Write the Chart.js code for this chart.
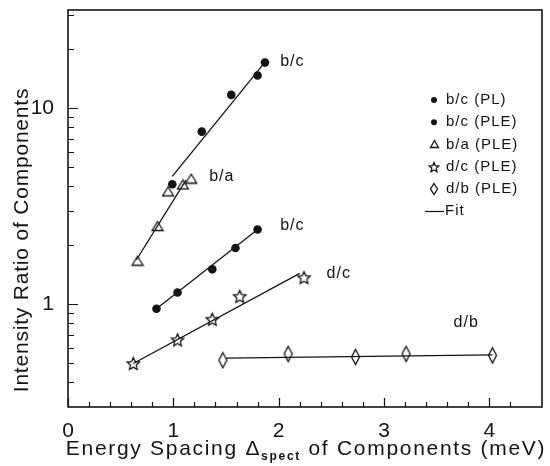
<!DOCTYPE html>
<html>
<head>
<meta charset="utf-8">
<script src="https://cdn.jsdelivr.net/npm/chart.js@4.4.1/dist/chart.umd.min.js"></script>
<style>
  html, body { margin: 0; padding: 0; background: #fff; }
  #wrap { width: 550px; height: 466px; }
</style>
</head>
<body>
<div id="wrap"><canvas id="c" width="550" height="466"></canvas></div>
<script>
// Measured intensity ratios vs. energy spacing (meV)
const bcPL_x  = [0.99, 1.27, 1.55, 1.80, 1.87];
const bcPL_y  = [4.1, 7.6, 11.7, 14.7, 17.1];
const bcPLE_x = [0.84, 1.04, 1.37, 1.59, 1.80];
const bcPLE_y = [0.95, 1.15, 1.51, 1.94, 2.41];
const baPLE_x = [0.66, 0.85, 0.95, 1.09, 1.17];
const baPLE_y = [1.67, 2.51, 3.77, 4.09, 4.38];
const dcPLE_x = [0.62, 1.04, 1.37, 1.63, 2.24];
const dcPLE_y = [0.50, 0.66, 0.84, 1.10, 1.37];
const dbPLE_x = [1.47, 2.09, 2.73, 3.21, 4.03];
const dbPLE_y = [0.52, 0.56, 0.54, 0.56, 0.55];

// Fitted lines (end points)
const fitBcPL_x  = [0.99, 1.89];
const fitBcPL_y  = [4.5, 17.7];
const fitBa_x    = [0.65, 1.12];
const fitBa_y    = [1.69, 4.3];
const fitBcPLE_x = [0.84, 1.80];
const fitBcPLE_y = [0.95, 2.41];
const fitDc_x    = [0.62, 2.20];
const fitDc_y    = [0.50, 1.44];
const fitDb_x    = [1.50, 4.03];
const fitDb_y    = [0.532, 0.553];

// Curve labels
const noteText = ['b/c', 'b/a', 'b/c', 'd/c', 'd/b'];
const noteX    = [2.13, 1.46, 2.13, 2.57, 3.78];
const noteY    = [17.3, 4.49, 2.51, 1.44, 0.81];

// Axis ticks
const yTicks       = [0.4, 0.5, 0.6, 0.7, 0.8, 0.9, 1, 2, 3, 4, 5, 6, 7, 8, 9, 10, 20, 30];
const yTickLabels  = ['1', '10'];
const xTickLabels  = ['0', '1', '2', '3', '4'];

const legendLabels = ['b/c (PL)', 'b/c (PLE)', 'b/a (PLE)', 'd/c (PLE)', 'd/b (PLE)', 'Fit'];

const INK = '#141414';
const FONT = '"Liberation Sans", Arial, sans-serif';

const pts = (xs, ys) => xs.map((v, i) => ({ x: v, y: ys[i] }));

// Hollow marker sprites
function sprite(w, h, draw) {
  const c = document.createElement('canvas');
  c.width = w; c.height = h;
  const g = c.getContext('2d');
  g.strokeStyle = INK; g.lineWidth = 1.3; g.lineJoin = 'miter';
  draw(g, w, h);
  return c;
}
const triangle = (w, h) => sprite(w + 3, h + 3, (g, W, H) => {
  g.beginPath();
  g.moveTo(W / 2, 1.5); g.lineTo(W - 1.5, H - 1.5); g.lineTo(1.5, H - 1.5);
  g.closePath(); g.stroke();
});
const star = (r) => sprite(2 * r + 4, 2 * r + 4, (g, W, H) => {
  const cx = W / 2, cy = H / 2 + 0.6;
  g.beginPath();
  for (let i = 0; i < 10; i++) {
    const rr = i % 2 ? r * 0.47 : r;
    const a = -Math.PI / 2 + i * Math.PI / 5;
    g.lineTo(cx + rr * Math.cos(a), cy + rr * Math.sin(a));
  }
  g.closePath(); g.stroke();
});
const diamond = (w, h) => sprite(w + 3, h + 3, (g, W, H) => {
  g.beginPath();
  g.moveTo(W / 2, 1.5); g.lineTo(W - 1.5, H / 2); g.lineTo(W / 2, H - 1.5); g.lineTo(1.5, H / 2);
  g.closePath(); g.stroke();
});

const triMark = triangle(11, 9), starMark = star(6.5), diaMark = diamond(8, 15);
const legendMarks = ['dot', 'dot', triangle(8, 7), star(5), diamond(7, 11), 'line'];

function scatterSet(label, xs, ys, style) {
  const dot = style === 'circle';
  return {
    label, data: pts(xs, ys), showLine: false,
    pointStyle: style, pointRadius: dot ? 4.3 : 6,
    backgroundColor: INK, borderColor: INK, borderWidth: dot ? 0 : 1.3
  };
}
function fitSet(xs, ys) {
  return {
    label: 'Fit', data: pts(xs, ys), showLine: true, pointRadius: 0,
    borderColor: INK, borderWidth: 1.3, fill: false
  };
}

const decor = {
  id: 'decor',
  afterDraw(chart) {
    const { ctx, chartArea: a, scales: { x, y } } = chart;
    ctx.save();
    ctx.strokeStyle = INK; ctx.fillStyle = INK;

    // frame
    ctx.lineWidth = 1.6;
    ctx.strokeRect(a.left, a.top, a.right - a.left, a.bottom - a.top);

    // inward tick marks
    ctx.lineWidth = 1.2;
    ctx.beginPath();
    y.ticks.forEach(t => {
      const py = Math.round(y.getPixelForValue(t.value)) + 0.5;
      const lg = Math.log10(t.value);
      const len = Math.abs(lg - Math.round(lg)) < 1e-6 ? 10 : 6;
      ctx.moveTo(a.left, py); ctx.lineTo(a.left + len, py);
    });
    x.ticks.forEach(t => {
      const px = Math.round(x.getPixelForValue(t.value)) + 0.5;
      const len = Math.abs(t.value - Math.round(t.value)) < 1e-6 ? 9 : 5;
      ctx.moveTo(px, a.bottom); ctx.lineTo(px, a.bottom - len);
    });
    ctx.stroke();

    // curve labels
    ctx.font = '16px ' + FONT;
    ctx.textAlign = 'center'; ctx.textBaseline = 'middle';
    if ('letterSpacing' in ctx) ctx.letterSpacing = '1px';
    noteText.forEach((s, i) => {
      ctx.fillText(s, x.getPixelForValue(noteX[i]), y.getPixelForValue(noteY[i]));
    });

    // legend
    const lx = 434, ly0 = 100, dy = 22.2;
    ctx.textAlign = 'left'; ctx.font = '15px ' + FONT;
    legendLabels.forEach((s, i) => {
      const yy = ly0 + i * dy;
      const m = legendMarks[i];
      if (m === 'dot') {
        ctx.beginPath(); ctx.arc(lx, yy, 3, 0, Math.PI * 2); ctx.fill();
        ctx.fillText(s, lx + 12, yy);
      } else if (m === 'line') {
        ctx.lineWidth = 1.2;
        ctx.beginPath(); ctx.moveTo(lx - 9, yy + 0.5); ctx.lineTo(lx + 10, yy + 0.5); ctx.stroke();
        ctx.fillText(s, lx + 11, yy);
      } else {
        ctx.drawImage(m, Math.round(lx - m.width / 2), Math.round(yy - m.height / 2));
        ctx.fillText(s, lx + 12, yy);
      }
    });

    // y axis title
    ctx.save();
    ctx.translate(22, 240);
    ctx.rotate(-Math.PI / 2);
    ctx.textAlign = 'center'; ctx.textBaseline = 'middle';
    ctx.font = '21px ' + FONT;
    if ('letterSpacing' in ctx) ctx.letterSpacing = '0.8px';
    ctx.fillText('Intensity Ratio of Components', 0, 0);
    ctx.restore();

    // x axis title with subscript
    const partA = 'Energy Spacing Δ', sub = 'spect', partB = ' of Components (meV)';
    const mainFont = '21px ' + FONT, subFont = 'bold 12px ' + FONT;
    ctx.textBaseline = 'alphabetic'; ctx.textAlign = 'left';
    if ('letterSpacing' in ctx) ctx.letterSpacing = '1.7px';
    ctx.font = mainFont; const wA = ctx.measureText(partA).width, wB = ctx.measureText(partB).width;
    ctx.font = subFont; const wS = ctx.measureText(sub).width;
    let tx = 306 - (wA + wS + wB) / 2;
    const base = 455;
    ctx.font = mainFont; ctx.fillText(partA, tx, base); tx += wA;
    ctx.font = subFont; ctx.fillText(sub, tx, base + 5); tx += wS;
    ctx.font = mainFont; ctx.fillText(partB, tx, base);
    ctx.restore();
  }
};

new Chart(document.getElementById('c'), {
  type: 'scatter',
  data: {
    datasets: [
      fitSet(fitBcPL_x, fitBcPL_y),
      fitSet(fitBa_x, fitBa_y),
      fitSet(fitBcPLE_x, fitBcPLE_y),
      fitSet(fitDc_x, fitDc_y),
      fitSet(fitDb_x, fitDb_y),
      scatterSet('b/c (PL)', bcPL_x, bcPL_y, 'circle'),
      scatterSet('b/c (PLE)', bcPLE_x, bcPLE_y, 'circle'),
      scatterSet('b/a (PLE)', baPLE_x, baPLE_y, triMark),
      scatterSet('d/c (PLE)', dcPLE_x, dcPLE_y, starMark),
      scatterSet('d/b (PLE)', dbPLE_x, dbPLE_y, diaMark)
    ]
  },
  options: {
    responsive: false,
    animation: false,
    devicePixelRatio: 1,
    layout: { padding: { top: 10, right: 8, left: 0, bottom: 0 } },
    plugins: { legend: { display: false }, tooltip: { enabled: false } },
    scales: {
      x: {
        type: 'linear', min: 0, max: 4.5,
        grid: { display: false }, border: { display: false },
        afterFit(s) { s.height = 59; s.paddingLeft = 0; s.paddingRight = 0; },
        afterBuildTicks(s) { s.ticks = s.ticks.filter(t => t.value < 4.45); },
        ticks: {
          stepSize: 0.2, autoSkip: false, maxRotation: 0, padding: 4,
          color: INK, font: { family: FONT, size: 21 },
          callback(v) {
            const r = Math.round(v);
            return Math.abs(v - r) < 1e-6 && xTickLabels.includes(String(r)) ? String(r) : '';
          }
        }
      },
      y: {
        type: 'logarithmic', min: 0.314, max: 31.7,
        grid: { display: false }, border: { display: false },
        afterFit(s) { s.width = 68; s.paddingTop = 0; s.paddingBottom = 0; },
        afterBuildTicks(s) { s.ticks = yTicks.map(v => ({ value: v })); },
        ticks: {
          autoSkip: false, padding: 6,
          color: INK, font: { family: FONT, size: 21 },
          callback(v) { return yTickLabels.includes(String(v)) ? String(v) : ''; }
        }
      }
    }
  },
  plugins: [decor]
});
</script>
</body>
</html>
